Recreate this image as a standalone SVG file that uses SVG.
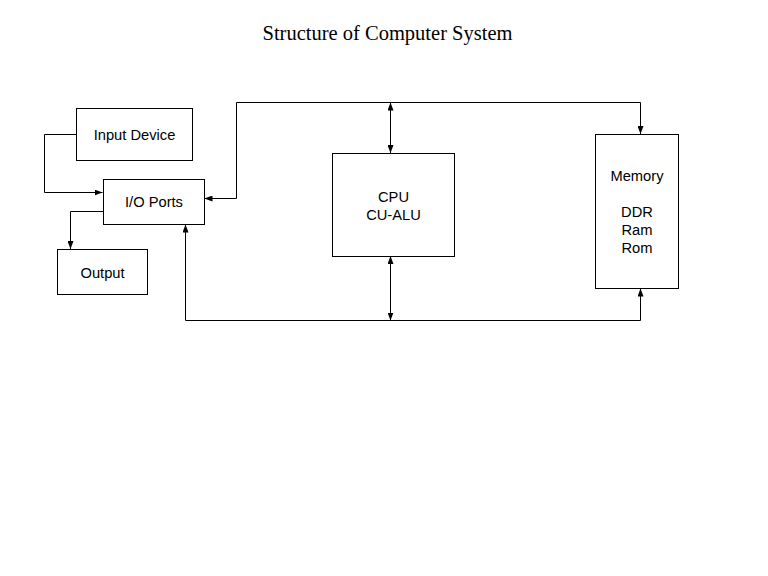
<svg xmlns="http://www.w3.org/2000/svg" width="768" height="576" viewBox="0 0 768 576">
<style>
.box{fill:#fff;stroke:#000;stroke-width:1}
.lbl{font-family:"Liberation Sans",Arial,sans-serif;font-size:14.7px;fill:#000;text-anchor:middle}
.ttl{font-family:"Liberation Serif","Times New Roman",serif;font-size:20.5px;fill:#000;text-anchor:middle}
.wire{fill:none;stroke:#000;stroke-width:1}
</style>
<defs>
<marker id="ah" viewBox="0 0 8 6" refX="8" refY="3" markerWidth="8" markerHeight="6" markerUnits="userSpaceOnUse" orient="auto-start-reverse">
<path d="M0,0 L8,3 L0,6 Z" fill="#000"/>
</marker>
</defs>
<rect width="768" height="576" fill="#fff"/>
<text class="ttl" x="387.5" y="40">Structure of Computer System</text>
<g id="connectors">
<path class="wire" d="M76,134.5 H44.5 V192.5 H102.5" marker-end="url(#ah)"/>
<path class="wire" d="M103,211.5 H70.5 V249" marker-end="url(#ah)"/>
<path class="wire" d="M640.5,134 V102.5 H236.5 V198.5 H204.5" marker-start="url(#ah)" marker-end="url(#ah)"/>
<path class="wire" d="M390.5,102.5 V153" marker-start="url(#ah)" marker-end="url(#ah)"/>
<path class="wire" d="M390.5,256 V320.5" marker-start="url(#ah)" marker-end="url(#ah)"/>
<path class="wire" d="M185.5,224.5 V320.5 H640.5 V288.5" marker-start="url(#ah)" marker-end="url(#ah)"/>
</g>
<g id="input-device">
<rect class="box" x="76.5" y="108.5" width="116" height="52"/>
<text class="lbl" x="134.5" y="140">Input Device</text>
</g>
<g id="io-ports">
<rect class="box" x="103.5" y="179.5" width="101" height="45"/>
<text class="lbl" x="154" y="207">I/O Ports</text>
</g>
<g id="output">
<rect class="box" x="57.5" y="249.5" width="90" height="45"/>
<text class="lbl" x="102.5" y="278">Output</text>
</g>
<g id="cpu">
<rect class="box" x="332.5" y="153.5" width="122" height="103"/>
<text class="lbl" x="393.5" y="202">CPU</text>
<text class="lbl" x="393.5" y="220">CU-ALU</text>
</g>
<g id="memory">
<rect class="box" x="595.5" y="134.5" width="83" height="154"/>
<text class="lbl" x="637" y="181">Memory</text>
<text class="lbl" x="637" y="217">DDR</text>
<text class="lbl" x="637" y="235">Ram</text>
<text class="lbl" x="637" y="253">Rom</text>
</g>
</svg>
